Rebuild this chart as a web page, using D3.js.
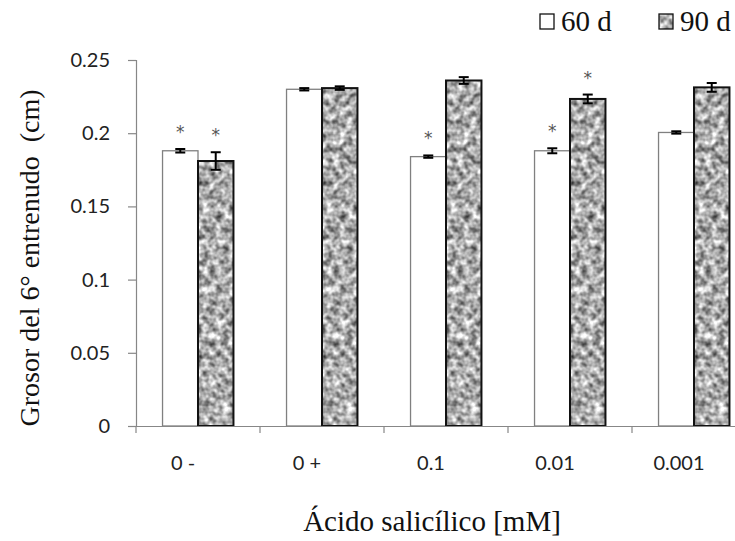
<!DOCTYPE html>
<html>
<head>
<meta charset="utf-8">
<script src="https://cdn.jsdelivr.net/npm/d3@7"></script>
<style>
  html, body { margin: 0; padding: 0; background: #fff; }
  svg { display: block; }
  .serif { font-family: "Liberation Serif", "Times New Roman", "DejaVu Serif", serif; }
  .sans { font-family: "Lato", "Open Sans", sans-serif; }
</style>
</head>
<body>
<svg id="chart" width="735" height="541"></svg>
<script>
// Grosor del 6° entrenudo por concentración de ácido salicílico
const categories = ["0 -", "0 +", "0.1", "0.01", "0.001"];
const seriesNames = ["60 d", "90 d"];
const values60 = [0.188, 0.230, 0.184, 0.188, 0.2005];
const errors60 = [0.0012, 0.0008, 0.0008, 0.0017, 0.0008];
const values90 = [0.181, 0.2308, 0.236, 0.2234, 0.2313];
const errors90 = [0.006, 0.0012, 0.0023, 0.003, 0.003];
const signif60 = [true, false, true, true, false];
const signif90 = [true, false, false, true, false];
const yTickValues = [0, 0.05, 0.1, 0.15, 0.2, 0.25];
const yTickLabels = ["0", "0.05", "0.1", "0.15", "0.2", "0.25"];

const svg = d3.select("#chart");
const defs = svg.append("defs");

// granite-like gray texture for the 90 d bars
const filt = defs.append("filter").attr("id", "granNoise")
  .attr("color-interpolation-filters", "sRGB")
  .attr("x", 0).attr("y", 0).attr("width", 1).attr("height", 1);
filt.append("feTurbulence").attr("type", "fractalNoise")
  .attr("baseFrequency", 0.15).attr("numOctaves", 2).attr("seed", 7).attr("result", "n");
filt.append("feColorMatrix").attr("type", "matrix")
  .attr("values", "1.25 0 0 0 0.05  1.25 0 0 0 0.05  1.25 0 0 0 0.05  0 0 0 0 1");
const pat = defs.append("pattern").attr("id", "granite")
  .attr("patternUnits", "userSpaceOnUse")
  .attr("width", 735).attr("height", 541);
pat.append("rect").attr("width", 735).attr("height", 541)
  .attr("fill", "#999").attr("filter", "url(#granNoise)");

const plotLeft = 136, plotTop = 60, plotBottom = 426;
const step = 124;

const x0 = d3.scaleBand()
  .domain(categories)
  .range([plotLeft, plotLeft + step * categories.length]);
const gapHalf = x0.bandwidth() * 0.214;
const x1 = d3.scaleBand()
  .domain(seriesNames)
  .range([gapHalf, x0.bandwidth() - gapHalf]);
const y = d3.scaleLinear().domain([0, 0.25]).range([plotBottom, plotTop]);

const axisColor = "#878787";

// y axis
const yAxis = svg.append("g").attr("transform", `translate(${plotLeft},0)`)
  .call(d3.axisLeft(y).tickValues(yTickValues)
    .tickFormat((d, i) => yTickLabels[i]).tickSize(8).tickPadding(18));
yAxis.select(".domain").attr("stroke", axisColor).attr("stroke-width", 1.2);
yAxis.selectAll(".tick line").attr("stroke", axisColor).attr("stroke-width", 1.2);
yAxis.selectAll(".tick text").attr("class", "sans").attr("font-family", null)
  .attr("font-size", 20).attr("fill", "#222");

// bars
const rows = categories.map((c, i) => ({
  cat: c,
  items: [
    { s: "60 d", v: values60[i], e: errors60[i], sig: signif60[i] },
    { s: "90 d", v: values90[i], e: errors90[i], sig: signif90[i] }
  ]
}));

const groups = svg.append("g").selectAll("g").data(rows).join("g")
  .attr("transform", d => `translate(${x0(d.cat)},0)`);

groups.selectAll("rect").data(d => d.items).join("rect")
  .attr("x", d => x1(d.s))
  .attr("y", d => y(d.v))
  .attr("width", x1.bandwidth())
  .attr("height", d => y(0) - y(d.v))
  .attr("fill", d => d.s === "60 d" ? "#fff" : "url(#granite)")
  .attr("stroke", d => d.s === "60 d" ? "#808080" : "#111")
  .attr("stroke-width", d => d.s === "60 d" ? 1.3 : 2);

// error bars
const capW = 5;
const eb = groups.selectAll("g.err").data(d => d.items).join("g").attr("class", "err")
  .attr("transform", d => `translate(${x1(d.s) + x1.bandwidth() / 2},0)`);
eb.append("line").attr("x1", 0).attr("x2", 0)
  .attr("y1", d => y(d.v + d.e)).attr("y2", d => y(d.v - d.e))
  .attr("stroke", "#000").attr("stroke-width", 2);
eb.append("line").attr("x1", -capW).attr("x2", capW)
  .attr("y1", d => y(d.v + d.e)).attr("y2", d => y(d.v + d.e))
  .attr("stroke", "#000").attr("stroke-width", 2);
eb.append("line").attr("x1", -capW).attr("x2", capW)
  .attr("y1", d => y(d.v - d.e)).attr("y2", d => y(d.v - d.e))
  .attr("stroke", "#000").attr("stroke-width", 2);

// significance marks
groups.selectAll("text.sig").data(d => d.items.filter(t => t.sig)).join("text")
  .attr("class", "sig")
  .attr("x", d => x1(d.s) + x1.bandwidth() / 2)
  .attr("y", d => y(d.v + d.e) - 11)
  .attr("text-anchor", "middle")
  .attr("font-family", "'DejaVu Sans', sans-serif")
  .attr("font-size", 17)
  .attr("fill", "#555")
  .text("*");

// x axis
const xAxis = svg.append("g").attr("transform", `translate(0,${plotBottom})`)
  .call(d3.axisBottom(x0).tickSize(0).tickPadding(0).tickFormat(""));
xAxis.select(".domain").attr("stroke", axisColor).attr("stroke-width", 1.2);
xAxis.selectAll(".tick").remove();
const bounds = categories.map(c => x0(c));
xAxis.selectAll("line.bound").data(bounds).join("line").attr("class", "bound")
  .attr("x1", d => d).attr("x2", d => d).attr("y1", 0).attr("y2", 7)
  .attr("stroke", axisColor).attr("stroke-width", 1.2);
xAxis.selectAll("text.lab").data(categories).join("text").attr("class", "lab sans")
  .attr("x", d => x0(d) + x0.bandwidth() / 2 - 15)
  .attr("y", 44)
  .attr("text-anchor", "middle")
  .attr("font-size", 20).attr("fill", "#222")
  .text(d => d);

// axis titles
svg.append("text").attr("class", "serif")
  .attr("x", 432).attr("y", 531)
  .attr("text-anchor", "middle")
  .attr("font-size", 29).attr("fill", "#111")
  .text("Ácido salicílico [mM]");

svg.append("text").attr("class", "serif")
  .attr("transform", "translate(39,258) rotate(-90)")
  .attr("text-anchor", "middle")
  .attr("font-size", 28).attr("fill", "#111")
  .attr("xml:space", "preserve")
  .text("Grosor del 6° entrenudo  (cm)");

// legend
const legX = [540, 659];
const legendItems = svg.append("g").selectAll("g").data(seriesNames).join("g")
  .attr("transform", (d, i) => `translate(${legX[i]},14)`);
legendItems.append("rect")
  .attr("x", 0).attr("y", 0).attr("width", 14).attr("height", 15)
  .attr("fill", d => d === "60 d" ? "#fff" : "url(#granite)")
  .attr("stroke", "#111")
  .attr("stroke-width", 1.3);
legendItems.append("text").attr("class", "serif")
  .attr("x", 21).attr("y", 17)
  .attr("font-size", 29).attr("fill", "#111")
  .text(d => d);
</script>
</body>
</html>
